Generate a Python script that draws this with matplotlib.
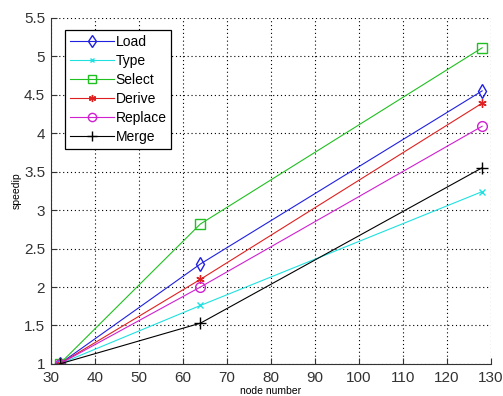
import matplotlib.pyplot as plt
import numpy as np

plt.rcParams['font.family'] = ['Liberation Sans', 'DejaVu Sans']

nodes = [32, 64, 128]
load = [1.0, 2.30, 4.55]
type_ = [1.0, 1.76, 3.24]
select = [1.0, 2.82, 5.11]
derive = [1.0, 2.10, 4.39]
replace = [1.0, 2.00, 4.09]
merge = [1.0, 1.53, 3.55]

fig = plt.figure(figsize=(5.03, 3.96), dpi=100)
ax = fig.add_axes([0.101, 0.081, 0.875, 0.874])

ax.plot(nodes, load, color='#2020e0', marker='d', mfc='none', ms=7, lw=0.8, label='Load')
ax.plot(nodes, type_, color='#20e0e0', marker='x', ms=4, lw=0.8, label='Type')
ax.plot(nodes, select, color='#20c020', marker='s', mfc='none', ms=7, lw=0.8, label='Select')
ax.plot(nodes, derive, color='#e02020', marker=(6, 2, 0), ms=6, lw=0.8, label='Derive')
ax.plot(nodes, replace, color='#d020d0', marker='o', mfc='none', ms=7, lw=0.8, label='Replace')
ax.plot(nodes, merge, color='black', marker='+', ms=8, lw=0.8, label='Merge')

ax.set_xlim(30, 130)
ax.set_ylim(1, 5.5)
ax.set_xticks(np.arange(30, 131, 10))
ax.set_yticks(np.arange(1, 5.51, 0.5))
ax.set_yticklabels(['1', '1.5', '2', '2.5', '3', '3.5', '4', '4.5', '5', '5.5'])
ax.grid(True, linestyle=(0, (1, 2.5)), color='black', lw=0.8)
ax.tick_params(direction='in', labelsize=11, length=4, colors='#333333')
ax.tick_params(axis='x', pad=5)
ax.tick_params(axis='y', pad=4)
for s in ['top', 'right']:
    ax.spines[s].set_visible(False)
for s in ['left', 'bottom']:
    ax.spines[s].set_color('#333333')

ax.set_xlabel('node number', fontsize=7.5, labelpad=1)
ax.set_ylabel('speedip', fontsize=7.5, labelpad=2)

leg = ax.legend(loc='upper left', bbox_to_anchor=(0.032, 0.965), fontsize=10,
                fancybox=False, framealpha=1, edgecolor='black', handlelength=3.2,
                handletextpad=0.1, labelspacing=0.36, borderpad=0.35, borderaxespad=0,
                markerscale=0.85)
leg.get_frame().set_linewidth(0.9)

fig.savefig('out.png', dpi=100)
